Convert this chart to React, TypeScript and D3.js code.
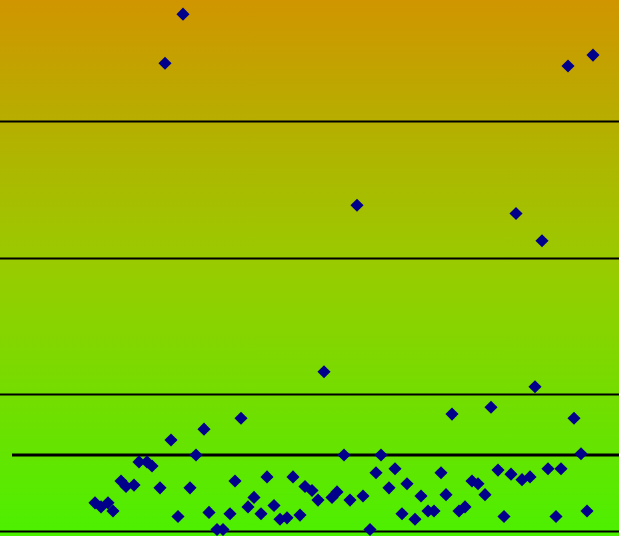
import React from "react";
import * as d3 from "d3";

const W = 619;
const H = 536;

// scatter values (x units, y units)
const xValues = [
  18.2, 16.4, 56.7, 59.2, 35.6, 51.5, 54.1, 32.3, 53.4, 45.1,
  49.0, 57.3, 24.0, 20.3, 17.0, 19.5, 34.3, 38.0, 58.0, 13.8,
  14.6, 15.1, 12.0, 12.5, 13.3, 15.9, 18.9, 9.4, 10.0, 10.7,
  11.2, 17.7, 23.4, 26.6, 29.2, 25.3, 24.7, 26.0, 27.3, 20.8,
  22.9, 21.6, 22.2, 27.9, 28.6, 30.4, 31.1, 31.7, 33.1, 33.6,
  34.9, 36.2, 37.5, 39.4, 38.8, 29.9, 36.9, 40.1, 40.6, 42.0,
  44.0, 44.5, 41.4, 42.7, 43.3, 45.8, 46.4, 47.1, 47.7, 48.4,
  49.7, 51.0, 52.1, 52.9, 54.7, 56.0, 50.3, 55.5, 58.6,
];
const yValues = [
  379, 343, 341, 349, 239, 233, 213, 117, 106, 86,
  91, 83, 83, 75, 67, 56, 56, 56, 57, 51,
  51, 48, 37, 33, 34, 32, 32, 21, 18, 21,
  15, 11, 37, 40, 40, 25, 18, 13, 19, 14,
  13, 1.5, 1.5, 9, 10, 33, 30, 23, 25, 29,
  23, 26, 43, 46, 32, 12, 1.5, 13, 35, 26,
  43, 27, 9, 15, 15, 15, 18, 37, 35, 27,
  45, 42, 38, 40, 46, 46, 11, 11, 15,
];
const gridValues = [0, 100, 200, 300];
const referenceValue = 56;
const referenceStartX = 1.1;

export default function App() {
  const x = d3.scaleLinear().domain([0, 61.9]).range([1, W + 1]);
  const y = d3.scaleLinear().domain([0, 300]).range([531.5, 122]);
  const diamond = d3.symbol().type(d3.symbolSquare).size(86)();
  const points = xValues.map((v, i) => ({ x: v, y: yValues[i] }));

  return (
    <svg
      width={W}
      height={H}
      style={{ position: "fixed", left: 0, top: 0, display: "block" }}
    >
      <defs>
        <linearGradient id="bg" x1="0" y1="0" x2="0" y2="1">
          <stop offset="0%" stopColor="#d09500" />
          <stop offset="50%" stopColor="#98cc00" />
          <stop offset="100%" stopColor="#4cf000" />
        </linearGradient>
      </defs>
      <rect x={0} y={0} width={W} height={H} fill="url(#bg)" />
      {gridValues.map((g) => (
        <line
          key={g}
          x1={0}
          x2={W}
          y1={Math.round(y(g)) - 0.5}
          y2={Math.round(y(g)) - 0.5}
          stroke="#000"
          strokeWidth={2}
        />
      ))}
      <line
        x1={x(referenceStartX)}
        x2={W}
        y1={y(referenceValue)}
        y2={y(referenceValue)}
        stroke="#000"
        strokeWidth={3}
      />
      {points.map((p, i) => (
        <path
          key={i}
          d={diamond || ""}
          transform={`translate(${x(p.x)},${y(p.y)}) rotate(45)`}
          fill="#00008b"
        />
      ))}
    </svg>
  );
}
